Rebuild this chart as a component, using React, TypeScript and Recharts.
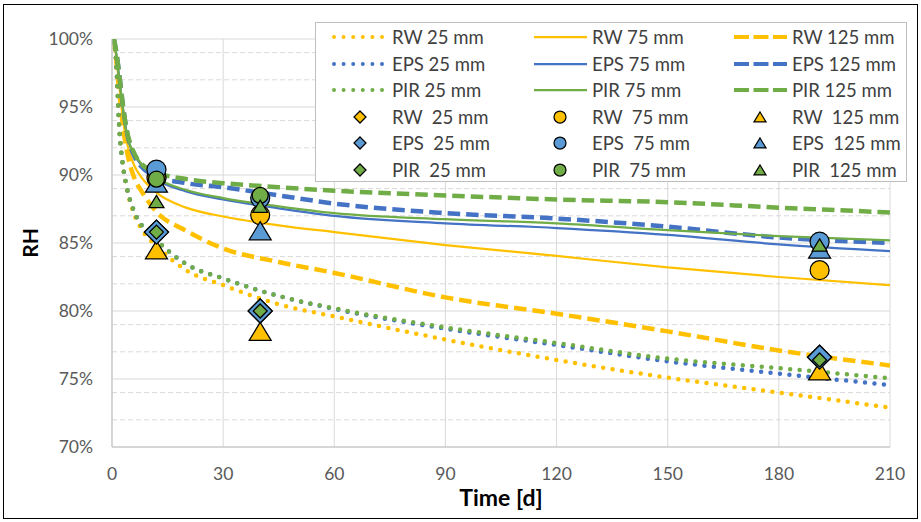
import React from 'react'
import { ComposedChart, Line, Scatter, XAxis, YAxis, CartesianGrid, Legend, Label } from 'recharts'

// curve sample days (d) and RH values (%)
const curveDays = [0.5, 1, 2, 3, 4, 6, 8, 12, 20, 30, 45, 60, 90, 120, 150, 180, 210]
const rw25 = [100, 98.8, 93.3, 90.6, 89.0, 87.1, 86.0, 84.8, 83.0, 81.9, 80.5, 79.6, 77.9, 76.4, 75.1, 74.0, 72.9]
const rw75 = [100, 99.0, 96.5, 94.0, 92.4, 90.7, 89.8, 88.7, 87.6, 86.95, 86.3, 85.8, 84.85, 84.05, 83.2, 82.5, 81.9]
const rw125 = [100, 98.8, 96.0, 93.5, 91.8, 89.8, 88.8, 87.3, 85.9, 84.6, 83.6, 82.8, 81.0, 79.8, 78.5, 77.1, 76.0]
const eps25 = [100, 98.8, 93.3, 90.6, 89.1, 87.3, 86.3, 85.2, 83.45, 82.4, 81.1, 80.15, 78.7, 77.5, 76.3, 75.4, 74.55]
const eps75 = [100, 99.2, 97.0, 94.8, 93.0, 91.5, 90.7, 89.7, 88.8, 88.2, 87.55, 87.0, 86.45, 86.1, 85.6, 84.9, 84.4]
const eps125 = [100, 99.3, 97.3, 95.0, 93.2, 91.4, 90.6, 89.9, 89.4, 89.1, 88.5, 87.9, 87.2, 86.8, 86.2, 85.4, 85.0]
const pir25 = [100, 98.8, 93.3, 90.6, 89.1, 87.3, 86.3, 85.2, 83.45, 82.4, 81.1, 80.2, 78.8, 77.65, 76.5, 75.8, 75.05]
const pir75 = [100, 99.2, 97.0, 94.8, 93.0, 91.6, 90.8, 89.8, 88.9, 88.3, 87.7, 87.2, 86.75, 86.45, 85.95, 85.5, 85.2]
const pir125 = [100, 99.3, 97.3, 95.0, 93.3, 91.6, 90.8, 90.2, 89.7, 89.4, 89.1, 88.85, 88.5, 88.2, 88.0, 87.6, 87.25]

// measured points
const markerDays = [12, 40, 191]
const rwDiamond = [85.8, 80.0, 76.6]
const rwCircle = [89.8, 87.05, 83.0]
const rwTriangle = [84.5, 78.5, 75.6]
const epsDiamond = [85.8, 80.0, 76.6]
const epsCircle = [90.4, 88.3, 85.1]
const epsTriangle = [89.4, 85.9, 84.55]
const pirDiamond = [85.8, 80.0, 76.4]
const pirCircle = [89.7, 88.5, null]
const pirTriangle = [88.05, 87.7, 84.85]

const xTicks = [0, 30, 60, 90, 120, 150, 180, 210]
const yTicks = [70, 75, 80, 85, 90, 95, 100]
const yMinor = [71, 72, 73, 74, 76, 77, 78, 79, 81, 82, 83, 84, 86, 87, 88, 89, 91, 92, 93, 94, 96, 97, 98, 99]

const RW = '#FFC000'
const EPS_LINE = '#4472C4'
const EPS_MARK = '#5B9BD5'
const PIR = '#70AD47'
const FONT = 'Lato, "Liberation Sans", sans-serif'

const pts = (xs: number[], ys: (number | null)[]) =>
  xs.map((t, i) => ({ t, v: ys[i] })).filter(p => p.v != null)

const lineStyle: any = {
  dot: { strokeWidth: 4.5, strokeDasharray: '0 9.5', strokeLinecap: 'round' },
  solid: { strokeWidth: 2.25 },
  dash: { strokeWidth: 4.5, strokeDasharray: '12.5 6' },
}

const curves = [
  { name: 'RW 25 mm', data: rw25, color: RW, kind: 'dot' },
  { name: 'RW 75 mm', data: rw75, color: RW, kind: 'solid' },
  { name: 'RW 125 mm', data: rw125, color: RW, kind: 'dash' },
  { name: 'EPS 25 mm', data: eps25, color: EPS_LINE, kind: 'dot' },
  { name: 'EPS 75 mm', data: eps75, color: EPS_LINE, kind: 'solid' },
  { name: 'EPS 125 mm', data: eps125, color: EPS_LINE, kind: 'dash' },
  { name: 'PIR 25 mm', data: pir25, color: PIR, kind: 'dot' },
  { name: 'PIR 75 mm', data: pir75, color: PIR, kind: 'solid' },
  { name: 'PIR 125 mm', data: pir125, color: PIR, kind: 'dash' },
]

const markers = [
  { name: 'RW  25 mm', data: rwDiamond, fill: RW, kind: 'diamond', size: 12 },
  { name: 'RW  75 mm', data: rwCircle, fill: RW, kind: 'circle', size: 9.5 },
  { name: 'RW  125 mm', data: rwTriangle, fill: RW, kind: 'triangle', size: 11 },
  { name: 'EPS  25 mm', data: epsDiamond, fill: EPS_MARK, kind: 'diamond', size: 12 },
  { name: 'EPS  75 mm', data: epsCircle, fill: EPS_MARK, kind: 'circle', size: 9.5 },
  { name: 'EPS  125 mm', data: epsTriangle, fill: EPS_MARK, kind: 'triangle', size: 11 },
  { name: 'PIR  25 mm', data: pirDiamond, fill: PIR, kind: 'diamond', size: 7 },
  { name: 'PIR  75 mm', data: pirCircle, fill: PIR, kind: 'circle', size: 8 },
  { name: 'PIR  125 mm', data: pirTriangle, fill: PIR, kind: 'triangle', size: 7.5 },
]

function Mark({ kind, cx, cy, s, fill }: any) {
  if (kind === 'circle') return <circle cx={cx} cy={cy} r={s} fill={fill} stroke="#000" strokeWidth={1.25} />
  let d = ''
  if (kind === 'diamond') d = `M${cx},${cy - s}L${cx + s},${cy}L${cx},${cy + s}L${cx - s},${cy}Z`
  else {
    const h = s * 1.65
    d = `M${cx},${cy - h / 2}L${cx + s},${cy + h / 2}L${cx - s},${cy + h / 2}Z`
  }
  return <path d={d} fill={fill} stroke="#000" strokeWidth={1.25} strokeLinejoin="miter" />
}

function LegendBox() {
  const items = [
    ...curves.map(c => ({ ...c, type: 'line' })),
    ...markers.map(m => ({ ...m, type: 'mark' })),
  ]
  return (
    <div style={{ position: 'relative', width: 592, height: 160, background: '#fff', border: '1px solid #bfbfbf', boxSizing: 'border-box', fontFamily: FONT, fontSize: 18.5, color: '#404040' }}>
      {items.map((it: any, i) => {
        const row = Math.floor(i / 3)
        const col = i % 3
        return (
          <div key={i} style={{ position: 'absolute', left: 16 + col * 200, top: 2 + row * 26.6, height: 24, display: 'flex', alignItems: 'center', whiteSpace: 'pre' }}>
            <svg width={60} height={24}>
              {it.type === 'line'
                ? <line x1={2} x2={55} y1={12} y2={12} stroke={it.color}
                    strokeWidth={it.kind === 'solid' ? 2.25 : it.kind === 'dot' ? 4 : 4}
                    strokeLinecap={it.kind === 'dot' ? 'round' : 'butt'}
                    strokeDasharray={it.kind === 'dot' ? '0 9.6' : it.kind === 'dash' ? '15 4.5' : undefined} />
                : <Mark kind={it.kind} cx={28} cy={12} s={6} fill={it.fill} />}
            </svg>
            <span>{it.name}</span>
          </div>
        )
      })}
    </div>
  )
}

export default function App() {
  return (
    <div style={{ position: 'absolute', left: 0, top: 0, width: 921, height: 522, background: '#fff' }}>
      <ComposedChart width={921} height={522} margin={{ top: 39, right: 31, bottom: 0, left: 0 }}>
        <CartesianGrid horizontalValues={yMinor} vertical={false} stroke="#d9d9d9" strokeDasharray="5 3" />
        <CartesianGrid stroke="#d9d9d9" verticalValues={xTicks} horizontalValues={yTicks} />
        <XAxis type="number" dataKey="t" domain={[0, 210]} ticks={xTicks} allowDataOverflow height={75}
          tickLine={false} tickMargin={15} axisLine={{ stroke: '#bfbfbf' }}
          tick={{ fontSize: 17.5, fill: '#595959', fontFamily: FONT }}>
          <Label value="Time [d]" position="insideBottom" offset={16} style={{ fontSize: 23, fontWeight: 700, fill: '#000', fontFamily: FONT }} />
        </XAxis>
        <YAxis type="number" dataKey="v" domain={[70, 100]} ticks={yTicks} allowDataOverflow width={112}
          tickLine={false} tickMargin={13} axisLine={{ stroke: '#bfbfbf' }}
          tickFormatter={(v: number) => `${v}%`}
          tick={{ fontSize: 17.5, fill: '#595959', fontFamily: FONT }}>
          <Label content={({ viewBox }: any) => (
            <text x={viewBox.x + 29} y={viewBox.y + viewBox.height / 2} transform={`rotate(-90 ${viewBox.x + 29} ${viewBox.y + viewBox.height / 2})`}
              textAnchor="middle" dominantBaseline="central" style={{ fontSize: 21, fontWeight: 700, fill: '#000', fontFamily: FONT }}>RH</text>
          )} />
        </YAxis>
        {curves.map(c => (
          <Line key={c.name} name={c.name} data={pts(curveDays, c.data)} dataKey="v" type="monotone" stroke={c.color}
            {...lineStyle[c.kind]} dot={false} activeDot={false} isAnimationActive={false} legendType="none" />
        ))}
        {markers.map(m => (
          <Scatter key={m.name} name={m.name} data={pts(markerDays, m.data)} dataKey="v" isAnimationActive={false}
            shape={(p: any) => <Mark kind={m.kind} cx={p.cx} cy={p.cy} s={m.size} fill={m.fill} />} />
        ))}
        <Legend layout="horizontal" align="center" verticalAlign="middle" content={() => <LegendBox />}
          wrapperStyle={{ position: 'absolute', left: 315, top: 22, width: 592, height: 160 }} />
      </ComposedChart>
      <div style={{ position: 'absolute', left: 3, top: 4, width: 915, height: 515, border: '1.5px solid #000', boxSizing: 'border-box', pointerEvents: 'none' }} />
    </div>
  )
}
